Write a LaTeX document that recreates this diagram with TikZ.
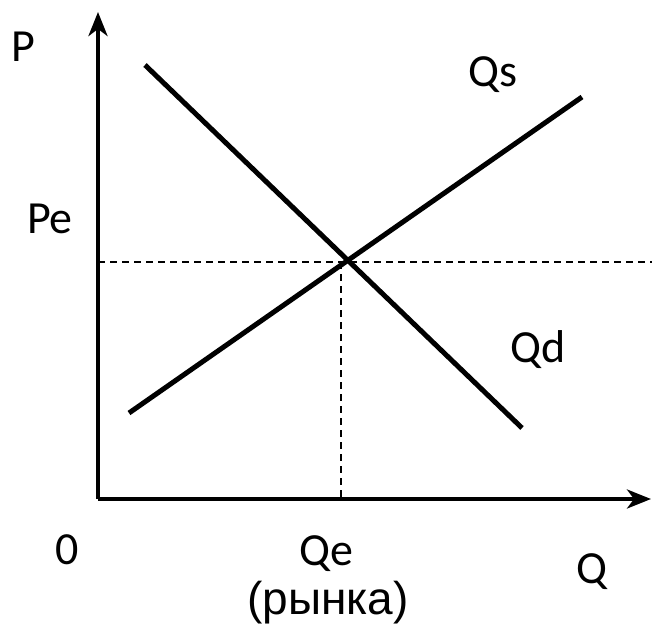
\documentclass[tikz,border=0pt]{standalone}
\usepackage{fontspec}
\setmainfont{Carlito}
\newfontfamily\arialfont{Liberation Sans}
\usetikzlibrary{arrows.meta}

\begin{document}
\begin{tikzpicture}[x=1pt, y=-1pt,
    >={Stealth[length=24pt, width=19pt, inset=7pt]},
    axis/.style={line width=4pt},
    curve/.style={line width=5pt},
    guide/.style={line width=1.5pt, dash pattern=on 7pt off 5pt},
    lbl/.style={font=\fontsize{46}{52}\selectfont, inner sep=0pt}]

    % The page is the reference's 652x635 window, measured from the top left
    \useasboundingbox (0,0) rectangle (652,635);

    % Axes
    \coordinate (O) at (98,499);
    \coordinate (ytop) at (98,12);
    \coordinate (xend) at (651,499);
    \draw[axis, ->] (O) -- (ytop);
    \draw[axis, ->] (O) -- (xend);

    % Equilibrium and the dashed guides to both axes
    \coordinate (E) at (345,262);
    \coordinate (Pe0) at (98,262);
    \coordinate (Pe1) at (652,262);
    \coordinate (Qe0) at (341,262);
    \coordinate (Qe1) at (341,499);
    \draw[guide] (Pe0) -- (Pe1);
    \draw[guide] (Qe0) -- (Qe1);

    % Demand falls, supply rises
    \coordinate (d1) at (145,65);
    \coordinate (d2) at (522,428);
    \coordinate (s1) at (129,413);
    \coordinate (s2) at (582,97);
    \draw[curve] (d1) -- (d2);
    \draw[curve] (s1) -- (s2);

    % Labels
    \node[lbl] (P) at (23,47) {P};
    \node[lbl] (Pe) at (50,219) {Pe};
    \node[lbl] (Qs) at (493,75) {Qs};
    \node[lbl] (Qd) at (538,350) {Qd};
    \node[lbl] (zero) at (67,550) {0};
    \node[lbl] (Qe) at (326,554) {Qe};
    \node[lbl] (Q) at (592,572) {Q};
    \node[lbl, font=\fontsize{46}{52}\arialfont] (mkt) at (328,603) {(рынка)};

\end{tikzpicture}
\end{document}
